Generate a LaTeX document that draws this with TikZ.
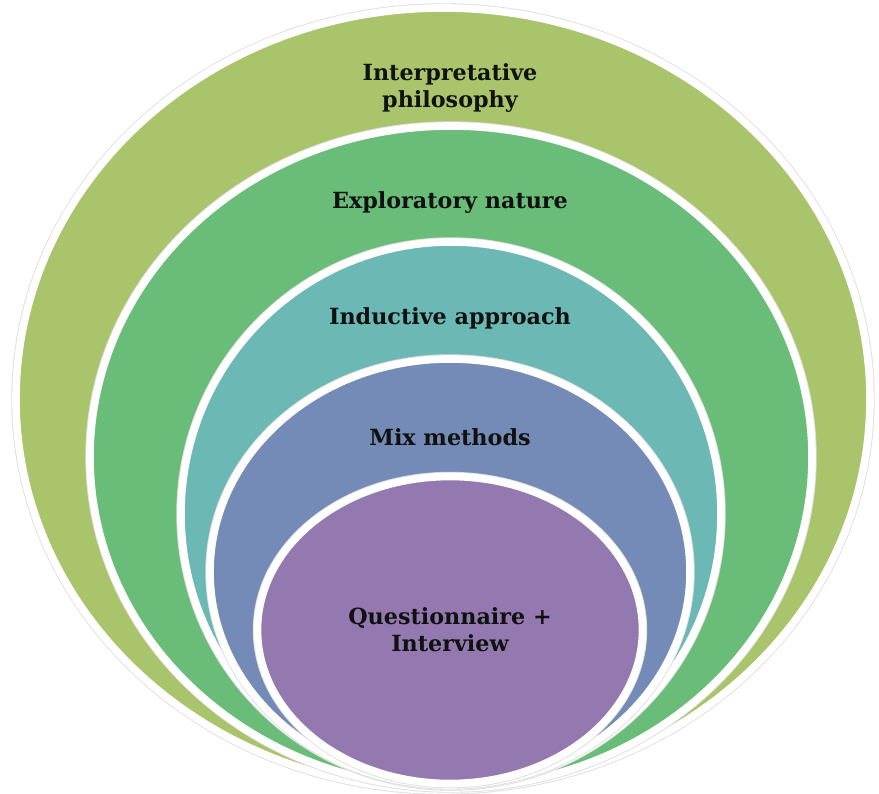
\documentclass[tikz,border=0pt]{standalone}
\usepackage{fontspec}
\setmainfont{DejaVu Serif}
\usetikzlibrary{shapes.geometric,shadows}
\definecolor{cphilo}{RGB}{170,196,108}
\definecolor{cexplo}{RGB}{106,189,121}
\definecolor{cinduct}{RGB}{108,184,180}
\definecolor{cmix}{RGB}{115,139,182}
\definecolor{cquest}{RGB}{147,121,176}
\definecolor{ctext}{HTML}{111111}
\tikzset{
  ring/.style={
    ellipse, draw=white, line width=6.5pt, fill=#1, inner sep=0pt,
    drop shadow={opacity=0.4, shadow xshift=1pt, shadow yshift=-2.5pt},
    preaction={draw=black!13, line width=8pt}
  },
  lab/.style={font=\bfseries\fontsize{19}{23}\selectfont, align=center, text=ctext}
}

\begin{document}
\begin{tikzpicture}[x=0.03cm,y=-0.03cm]
  \clip (0,0) rectangle (879,793);
  % nested rings, all touching at the bottom
  \node[ring=cphilo,  minimum width=25.62cm, minimum height=23.46cm] (philo)  at (443,399) {};
  \node[ring=cexplo,  minimum width=21.66cm, minimum height=19.86cm] (explo)  at (451,457) {};
  \node[ring=cinduct, minimum width=16.2cm,  minimum height=16.32cm] (induct) at (451,514) {};
  \node[ring=cmix,    minimum width=14.4cm,  minimum height=12.78cm] (mix)    at (450,572) {};
  \node[ring=cquest,  minimum width=11.55cm, minimum height=9.21cm]  (quest)  at (450,630) {};
  % labels
  \node[lab] (tphilo)  at (450,88)  {Interpretative\\philosophy};
  \node[lab] (texplo)  at (450,203) {Exploratory nature};
  \node[lab] (tinduct) at (450,318) {Inductive approach};
  \node[lab] (tmix)    at (450,437) {Mix methods};
  \node[lab] (tquest)  at (450,630) {Questionnaire +\\Interview};
\end{tikzpicture}
\end{document}
